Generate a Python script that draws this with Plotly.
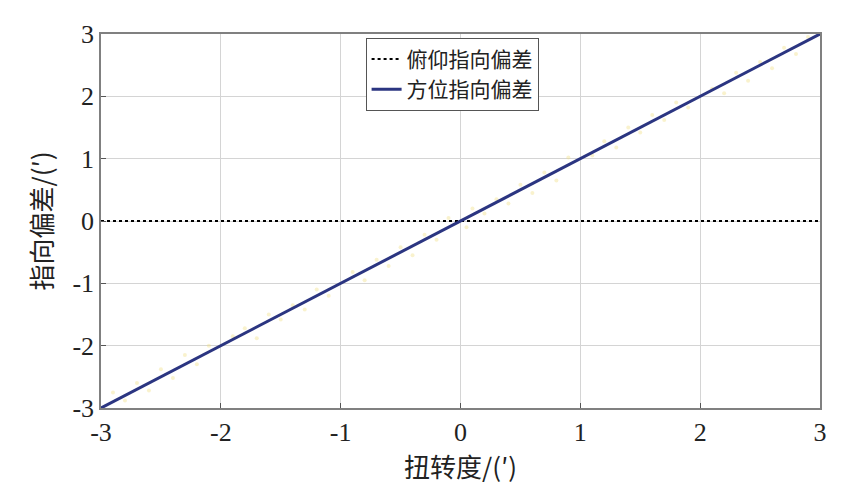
import plotly.graph_objects as go

# Data
line_x = [-3, -2, -1, 0, 1, 2, 3]
azimuth_dev = [-3, -2, -1, 0, 1, 2, 3]
pitch_dev = [0, 0, 0, 0, 0, 0, 0]

noise_x = [-2.9, -2.8, -2.7, -2.6, -2.5, -2.4, -2.3, -2.2, -2.1, -1.9, -1.8, -1.7, -1.6,
           -1.5, -1.4, -1.3, -1.2, -1.1, -0.9, -0.8, -0.7, -0.6, -0.5, -0.4, -0.3, -0.2,
           -0.1, 0.05, 0.1, 0.2, 0.3, 0.4, 0.5, 0.6, 0.7, 0.8, 0.9, 1.1, 1.2, 1.3, 1.4,
           1.5, 1.6, 1.7, 1.8, 1.9, 2.1, 2.2, 2.3, 2.4, 2.5, 2.6, 2.7, 2.8, 2.9]
noise_y = [-2.75, -2.88, -2.6, -2.72, -2.38, -2.52, -2.15, -2.3, -2.0, -1.85, -1.72, -1.88,
           -1.5, -1.58, -1.35, -1.42, -1.1, -1.2, -0.82, -0.95, -0.62, -0.72, -0.42, -0.55,
           -0.22, -0.3, 0.05, -0.1, 0.2, 0.12, 0.35, 0.28, 0.58, 0.45, 0.78, 0.65, 1.02,
           1.05, 1.28, 1.18, 1.5, 1.42, 1.7, 1.62, 1.9, 1.82, 2.12, 2.05, 2.38, 2.25,
           2.55, 2.45, 2.78, 2.68, 2.95]

xticks = [-3, -2, -1, 0, 1, 2, 3]
yticks = [-3, -2, -1, 0, 1, 2, 3]

SERIF = "'Liberation Serif', 'Times New Roman', 'DejaVu Serif', serif"
CJK = "'Noto Sans CJK SC', 'Noto Sans CJK JP', sans-serif"

fig = go.Figure()
fig.add_trace(go.Scatter(x=noise_x, y=noise_y, mode="markers",
                         marker=dict(size=4, color="rgba(240,222,130,0.4)"),
                         showlegend=False, hoverinfo="skip"))
fig.add_trace(go.Scatter(x=line_x, y=pitch_dev, mode="lines", name="俯仰指向偏差",
                         line=dict(color="black", width=2, dash="dot")))
fig.add_trace(go.Scatter(x=line_x, y=azimuth_dev, mode="lines", name="方位指向偏差",
                         line=dict(color="#2b3581", width=3)))

axis_common = dict(
    range=[-3, 3], showgrid=True, gridcolor="#d4d4d4", gridwidth=1,
    showline=True, linecolor="#808080", linewidth=1.5, mirror=True,
    ticks="inside", ticklen=5, tickcolor="#555555", zeroline=False,
)

fig.update_layout(
    width=864, height=500,
    margin=dict(l=93, r=52, t=19, b=100),
    paper_bgcolor="white", plot_bgcolor="white",
    font=dict(family=SERIF, size=26, color="#222222"),
    xaxis=dict(**axis_common, tickvals=xticks, ticktext=[str(v) for v in xticks],
               tickfont=dict(family=SERIF, size=26, color="#222222"),
               title=dict(text="扭转度/(′)", standoff=6,
                          font=dict(family=CJK, size=26, color="#222222"))),
    yaxis=dict(**axis_common, tickvals=yticks, ticktext=[str(v) for v in yticks],
               tickfont=dict(family=SERIF, size=26, color="#222222"),
               title=dict(text="指向偏差/(′)", standoff=12,
                          font=dict(family=CJK, size=26, color="#222222"))),
    legend=dict(x=0.368, y=0.99, xanchor="left", yanchor="top",
                bgcolor="white", bordercolor="#555555", borderwidth=1,
                font=dict(family=CJK, size=21, color="#222222"),
                itemwidth=30, tracegroupgap=0),
)

fig.write_html("out.html")
